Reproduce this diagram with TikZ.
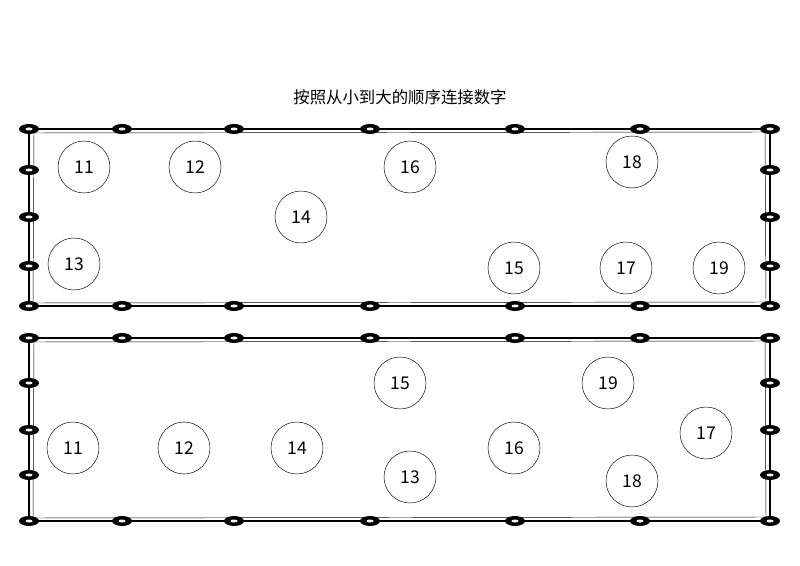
\documentclass[tikz,border=0pt]{standalone}
\usepackage{fontspec}
\setmainfont{Noto Sans CJK SC}
\begin{document}
\begin{tikzpicture}[x=0.03cm,y=-0.03cm,
  num/.style={circle,draw,thin,minimum size=1.56cm,font=\fontsize{15}{18}\selectfont},
  rail/.style={line width=1.8pt}]
\useasboundingbox (0,0) rectangle (800,566);
\node[font=\fontsize{14}{17}\selectfont] (title) at (400,97) {按照从小到大的顺序连接数字};
% frames
\foreach \t/\b/\sides in {129/306/{170,217,266},338/521/{383,430,475}}{
  \draw[rail] (29,\t) -- (770,\t) -- (770,\b) -- (29,\b) -- cycle;
  \draw[thin] (34,\t+4) -- (765,\t+3) -- (766,\b-4) -- (33,\b-3) -- cycle;
  \foreach \x in {29,122,234,370,515,640,770}{
    \fill (\x,\t) ellipse (10 and 5); \fill[white] (\x,\t) ellipse (3.5 and 1.5);
    \fill (\x,\b) ellipse (10 and 5); \fill[white] (\x,\b) ellipse (3.5 and 1.5);}
  \foreach \y in \sides{
    \fill (29,\y) ellipse (10 and 5); \fill[white] (29,\y) ellipse (3.5 and 1.5);
    \fill (770,\y) ellipse (10 and 5); \fill[white] (770,\y) ellipse (3.5 and 1.5);}
}
% upper numbers
\node[num] (a11) at (84,167) {11};
\node[num] (a12) at (195,167) {12};
\node[num] (a13) at (74,264) {13};
\node[num] (a14) at (301,217) {14};
\node[num] (a15) at (514,268) {15};
\node[num] (a16) at (410,167) {16};
\node[num] (a17) at (626,268) {17};
\node[num] (a18) at (632,162) {18};
\node[num] (a19) at (719,268) {19};
% lower numbers
\node[num] (b11) at (73,448) {11};
\node[num] (b12) at (184,448) {12};
\node[num] (b13) at (410,477) {13};
\node[num] (b14) at (297,448) {14};
\node[num] (b15) at (400,383) {15};
\node[num] (b16) at (514,448) {16};
\node[num] (b17) at (706,433) {17};
\node[num] (b18) at (632,481) {18};
\node[num] (b19) at (608,383) {19};
\end{tikzpicture}
\end{document}
